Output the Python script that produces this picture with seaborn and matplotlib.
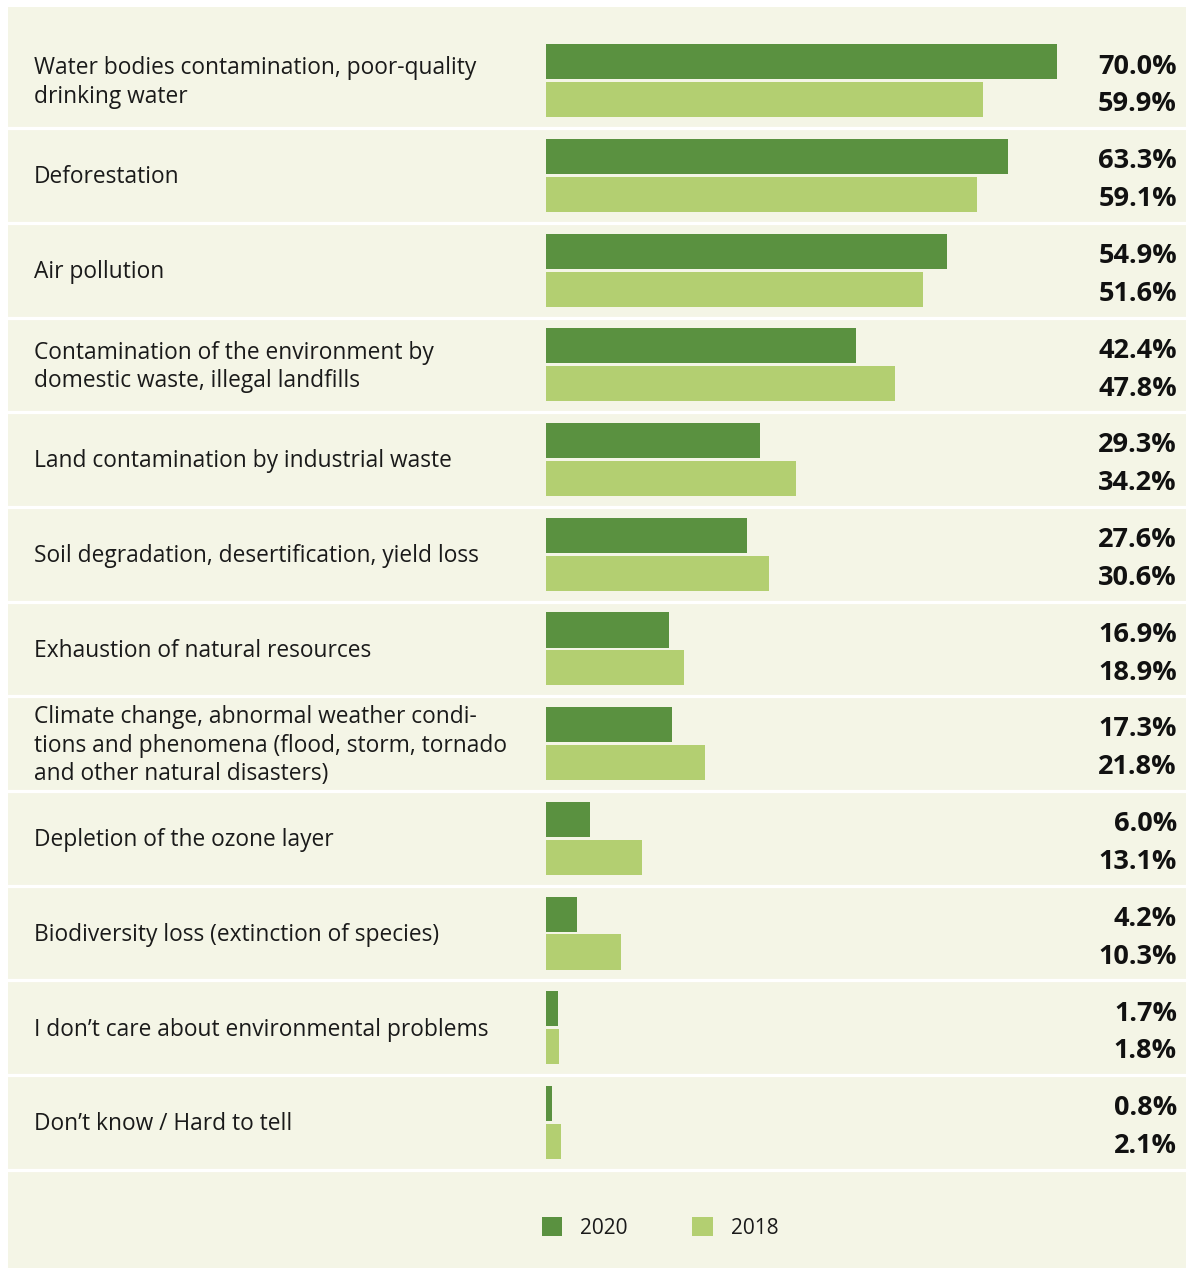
import matplotlib
matplotlib.use("Agg")
import matplotlib.pyplot as plt
from matplotlib.patches import Patch
import seaborn as sns
import pandas as pd

categories = [
    "Water bodies contamination, poor-quality\ndrinking water",
    "Deforestation",
    "Air pollution",
    "Contamination of the environment by\ndomestic waste, illegal landfills",
    "Land contamination by industrial waste",
    "Soil degradation, desertification, yield loss",
    "Exhaustion of natural resources",
    "Climate change, abnormal weather condi-\ntions and phenomena (flood, storm, tornado\nand other natural disasters)",
    "Depletion of the ozone layer",
    "Biodiversity loss (extinction of species)",
    "I don\u2019t care about environmental problems",
    "Don\u2019t know / Hard to tell",
]
values_2020 = [70.0, 63.3, 54.9, 42.4, 29.3, 27.6, 16.9, 17.3, 6.0, 4.2, 1.7, 0.8]
values_2018 = [59.9, 59.1, 51.6, 47.8, 34.2, 30.6, 18.9, 21.8, 13.1, 10.3, 1.8, 2.1]
series = ["2020", "2018"]

DARK = "#5a9140"
LIGHT = "#b3cf71"
PANEL = "#f4f5e6"

df = pd.DataFrame({
    "category": categories * 2,
    "value": values_2020 + values_2018,
    "year": [series[0]] * len(categories) + [series[1]] * len(categories),
})

plt.rcParams["font.family"] = ["Open Sans", "DejaVu Sans"]

W, H = 1186, 1268
fig = plt.figure(figsize=(W / 100, H / 100), dpi=100, facecolor="white")

# axes covering the beige panel
px0, py0 = 8, 7
ax = fig.add_axes([px0 / W, 0, 1 - px0 / W, 1 - py0 / H])
ax.set_facecolor(PANEL)

sns.barplot(data=df, y="category", x="value", hue="year", hue_order=series,
            palette={series[0]: DARK, series[1]: LIGHT}, orient="h",
            width=0.8, gap=0.075, saturation=1, linewidth=0, legend=False, ax=ax)

# pixel mapping
x0_px = 546
ppu = 7.3
row0 = 80.75
rowh = 94.7
ax.set_xlim(-(x0_px - px0) / ppu, (W - x0_px) / ppu)
ax.set_ylim((H - row0) / rowh, (py0 - row0) / rowh)

for s in ax.spines.values():
    s.set_visible(False)
ax.set_xticks([])
ax.set_yticks([])
ax.set_xlabel("")
ax.set_ylabel("")

# row separators
for i in range(len(categories)):
    ax.axhline(i + 0.5, color="white", lw=2.3, zorder=3)

# category labels
lab_x = (34 - x0_px) / ppu
for i, c in enumerate(categories):
    ax.text(lab_x, i + 0.02, c, ha="left", va="center", fontsize=16.4,
            color="#1a1a1a", linespacing=1.24)

# value labels
val_x = (1177 - x0_px) / ppu
for cont in ax.containers:
    for p in cont.patches:
        v = p.get_width()
        yc = p.get_y() + p.get_height() / 2
        ax.text(val_x, yc + 0.05, f"{v:.1f}%", ha="right", va="center",
                fontsize=19.5, fontweight="bold", color="#111111")

handles = [Patch(facecolor=DARK, edgecolor="none"), Patch(facecolor=LIGHT, edgecolor="none")]
leg_y = (1228 - row0) / rowh
ax.legend(handles, series, ncol=2, frameon=False, loc="center",
          bbox_to_anchor=((660 - x0_px) / ppu, leg_y), bbox_transform=ax.transData,
          fontsize=15, handlelength=1.0, handleheight=1.0, handletextpad=0.85,
          columnspacing=3.1, borderpad=0, labelcolor="#1a1a1a")

fig.savefig("out.png", dpi=100, facecolor="white")
